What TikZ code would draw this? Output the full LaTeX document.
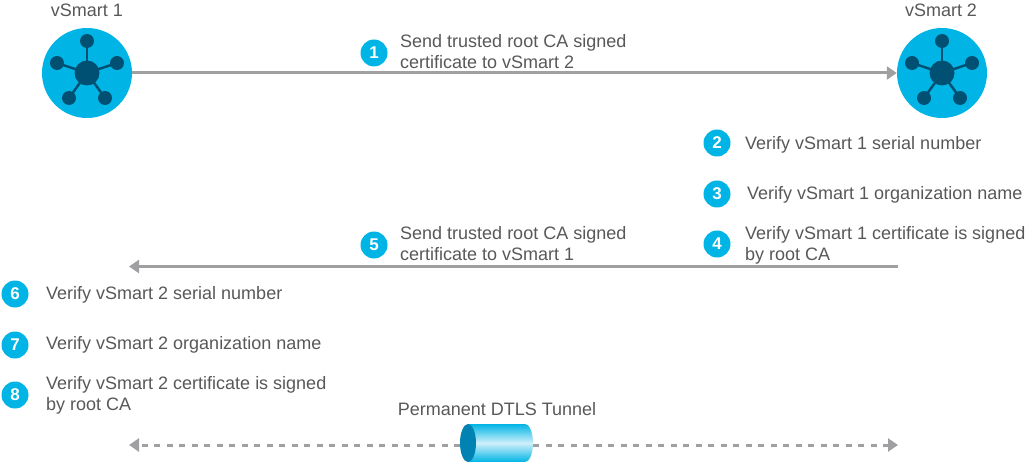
\documentclass[tikz,border=0pt]{standalone}
\usepackage{fontspec}
\setmainfont{Liberation Sans}
\usepackage{xcolor}
\usepackage{tikz}
\usetikzlibrary{shapes,arrows.meta,calc,positioning}
\definecolor{ciscoblue}{HTML}{00B5E6}
\definecolor{hubblue}{HTML}{005073}
\definecolor{labelgray}{HTML}{58585A}
\definecolor{flowgray}{HTML}{A0A0A2}
\definecolor{tubedark}{HTML}{0083B3}
\definecolor{tubelight}{HTML}{CFEFFA}

\begin{document}
\begin{tikzpicture}[x=1pt, y=-1pt, >={Triangle[length=10pt, width=13pt]},
  font=\fontsize{18}{21}\selectfont]
\tikzset{device/.style = {circle, fill=ciscoblue, minimum size=90pt, inner sep=0pt},
  hub/.style = {circle, fill=hubblue, minimum size=25pt, inner sep=0pt},
  spoke/.style = {circle, fill=hubblue, minimum size=14pt, inner sep=0pt},
  badge/.style = {circle, fill=ciscoblue, text=white, minimum size=27pt, inner sep=0pt,
    font=\fontsize{17}{17}\selectfont\bfseries},
  note/.style = {anchor=west, align=left, text=labelgray, inner sep=0pt},
  flow/.style = {draw=flowgray, line width=3pt, ->},
  tunnelflow/.style = {draw=flowgray, line width=3pt, dash pattern=on 6pt off 6.5pt, ->}}
  \useasboundingbox (0,0) rectangle (1027,462);

  % devices
  \node[device] (vsmarta) at (87,73) {};
  \node[device] (vsmartb) at (942,73) {};
  \node[text=labelgray] (vsmartalabel) at (87,10) {vSmart 1};
  \node[text=labelgray] (vsmartblabel) at (941,10) {vSmart 2};

  \foreach \dev in {vsmarta,vsmartb} {
    \node[hub] (\dev hub) at (\dev) {};
    \foreach \name/\dx/\dy in {n/0/-32, w/-30/-10, e/30/-10, sw/-18/25, se/18/25} {
      \node[spoke] (\dev\name) at ($(\dev)+(\dx,\dy)$) {};
      \draw[hubblue, line width=2.5pt] (\dev hub.center) -- (\dev\name.center);
    }
  }

  % flow arrows
  \coordinate (backstart) at (898,266.5);
  \coordinate (backend) at (129,266.5);
  \draw[flow] (vsmarta.east) -- (vsmartb.west);
  \draw[flow] (backstart) -- (backend);

  % tunnel
  \coordinate (tunnelleft) at (460,445);
  \coordinate (tunnelright) at (533,445);
  \coordinate (dashleft) at (129,445);
  \coordinate (dashright) at (898,445);
  \draw[tunnelflow] (tunnelleft) -- (dashleft);
  \draw[tunnelflow] (tunnelright) -- (dashright);
  \shade[top color=ciscoblue, bottom color=ciscoblue, middle color=tubelight]
    (468,424) -- (525,424) arc[start angle=-90, end angle=90, x radius=8, y radius=19]
    -- (468,462) -- cycle;
  \fill[tubedark] (468,443) ellipse[x radius=8, y radius=19];
  \node[text=labelgray] (tunnellabel) at (497,409) {Permanent DTLS Tunnel};

  % steps
  \foreach \num/\px/\py in {1/374/53, 2/717/143, 3/717/194, 4/717/244,
    5/374/245, 6/15/294, 7/15/345, 8/15/395}
    \node[badge] (step\num) at (\px,\py) {\num};

  \node[note] (textone) at (400,52) {Send trusted root CA signed\\certificate to vSmart 2};
  \node[note] (texttwo) at (745,145) {Verify vSmart 1 serial number};
  \node[note] (textthree) at (747,195) {Verify vSmart 1 organization name};
  \node[note] (textfour) at (745,245) {Verify vSmart 1 certificate is signed\\by root CA};
  \node[note] (textfive) at (400,244) {Send trusted root CA signed\\certificate to vSmart 1};
  \node[note] (textsix) at (46,295) {Verify vSmart 2 serial number};
  \node[note] (textseven) at (46,345) {Verify vSmart 2 organization name};
  \node[note] (texteight) at (46,395) {Verify vSmart 2 certificate is signed\\by root CA};
\end{tikzpicture}
\end{document}
